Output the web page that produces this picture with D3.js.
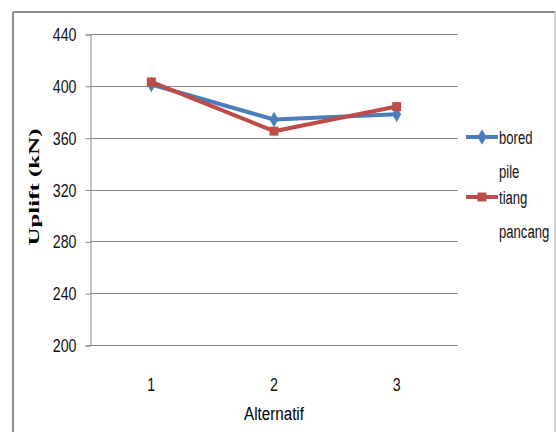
<!DOCTYPE html>
<html>
<head>
<meta charset="utf-8">
<script src="https://cdn.jsdelivr.net/npm/d3@7"></script>
<style>
  html, body { margin: 0; padding: 0; background: #fff; }
  svg { display: block; }
</style>
</head>
<body>
<svg id="chart" width="556" height="432"></svg>
<script>
// Data
const categories = ["1", "2", "3"];
const boredPile = [401, 374, 378];
const tiangPancang = [403, 365, 384];
const yTicks = [200, 240, 280, 320, 360, 400, 440];
const seriesNames = [["bored", "pile"], ["tiang", "pancang"]];

const svg = d3.select("#chart");
const W = 556, H = 432;
const m = { left: 90, right: 98, top: 34, bottom: 87 };
const labelFont = "'Liberation Sans', Arial, sans-serif";

// Squeeze text horizontally (narrow, tall lettering), keeping its anchor in place
function condense(sel, f) {
  sel.each(function () {
    const t = d3.select(this);
    const x0 = +(t.attr("x") || 0);
    t.attr("x", x0 / f).attr("transform", `scale(${f},1)`);
  });
}

// Outer frame
svg.append("line").attr("x1", 13).attr("x2", 555).attr("y1", 12).attr("y2", 12)
  .attr("stroke", "#8c8c8c").attr("stroke-width", 2);
svg.append("line").attr("x1", 13).attr("x2", 13).attr("y1", 12).attr("y2", H)
  .attr("stroke", "#8c8c8c").attr("stroke-width", 2);
svg.append("line").attr("x1", 555).attr("x2", 555).attr("y1", 12).attr("y2", H)
  .attr("stroke", "#c8c8c8").attr("stroke-width", 1.5);

const x = d3.scaleBand().domain(categories).range([m.left, W - m.right]);
const y = d3.scaleLinear().domain([200, 440]).range([H - m.bottom, m.top]);

// Horizontal gridlines
svg.append("g").selectAll("line").data(yTicks).join("line")
  .attr("x1", m.left).attr("x2", W - m.right)
  .attr("y1", d => Math.round(y(d)) + 0.5).attr("y2", d => Math.round(y(d)) + 0.5)
  .attr("stroke", "#8a8a8a").attr("stroke-width", 1);

// Y axis
const yAxis = svg.append("g")
  .attr("transform", `translate(${m.left + 0.5},0.5)`)
  .call(d3.axisLeft(y).tickValues(yTicks).tickSize(5).tickPadding(9));
yAxis.select(".domain").attr("stroke", "#8a8a8a");
yAxis.selectAll(".tick line").attr("stroke", "#8a8a8a");
yAxis.selectAll(".tick text")
  .attr("font-family", labelFont).attr("font-size", 19).attr("fill", "#111")
  .call(condense, 0.75);

// X axis labels
const xAxis = svg.append("g")
  .attr("transform", `translate(0,${H - m.bottom})`)
  .call(d3.axisBottom(x).tickSize(0).tickPadding(33));
xAxis.select(".domain").remove();
xAxis.selectAll(".tick text")
  .attr("font-family", labelFont).attr("font-size", 19).attr("fill", "#111")
  .call(condense, 0.75);

// Axis titles
svg.append("text")
  .attr("x", x("2") + x.bandwidth() / 2).attr("y", 420)
  .attr("text-anchor", "middle")
  .attr("font-family", labelFont).attr("font-size", 19).attr("fill", "#000")
  .text("Alternatif")
  .call(condense, 0.8);

svg.append("text")
  .attr("transform", `translate(39,187) rotate(-90)`)
  .attr("text-anchor", "middle")
  .attr("font-family", "'Liberation Serif', 'Times New Roman', serif")
  .attr("font-weight", "bold").attr("font-size", 14).attr("fill", "#000")
  .text("Uplift  (kN)")
  .attr("textLength", 117).attr("lengthAdjust", "spacingAndGlyphs");

// Series
const cx = c => x(c) + x.bandwidth() / 2;
const line = d3.line().x((d, i) => cx(categories[i])).y(d => y(d));
const diamond = d3.symbol().type(d3.symbolDiamond).size(70);
const square = d3.symbol().type(d3.symbolSquare).size(80);

const series = [
  { values: boredPile, color: "#4a7ebb", sym: diamond },
  { values: tiangPancang, color: "#be4b48", sym: square }
];

series.forEach(s => {
  svg.append("path").datum(s.values)
    .attr("d", line).attr("fill", "none")
    .attr("stroke", s.color).attr("stroke-width", 4)
    .attr("stroke-linejoin", "round");
  svg.append("g").selectAll("path").data(s.values).join("path")
    .attr("transform", (d, i) => `translate(${cx(categories[i])},${y(d)})`)
    .attr("d", s.sym).attr("fill", s.color);
});

// Legend
const legendY = [137, 197];
series.forEach((s, i) => {
  const g = svg.append("g");
  g.append("line").attr("x1", 466).attr("x2", 498)
    .attr("y1", legendY[i]).attr("y2", legendY[i])
    .attr("stroke", s.color).attr("stroke-width", 4);
  g.append("path").attr("transform", `translate(482,${legendY[i]})`)
    .attr("d", s.sym).attr("fill", s.color);
  seriesNames[i].forEach((t, j) => {
    g.append("text").attr("x", 499).attr("y", legendY[i] + 7 + j * 34)
      .attr("font-family", labelFont).attr("font-size", 19).attr("fill", "#111")
      .text(t)
      .call(condense, 0.69);
  });
});
</script>
</body>
</html>
